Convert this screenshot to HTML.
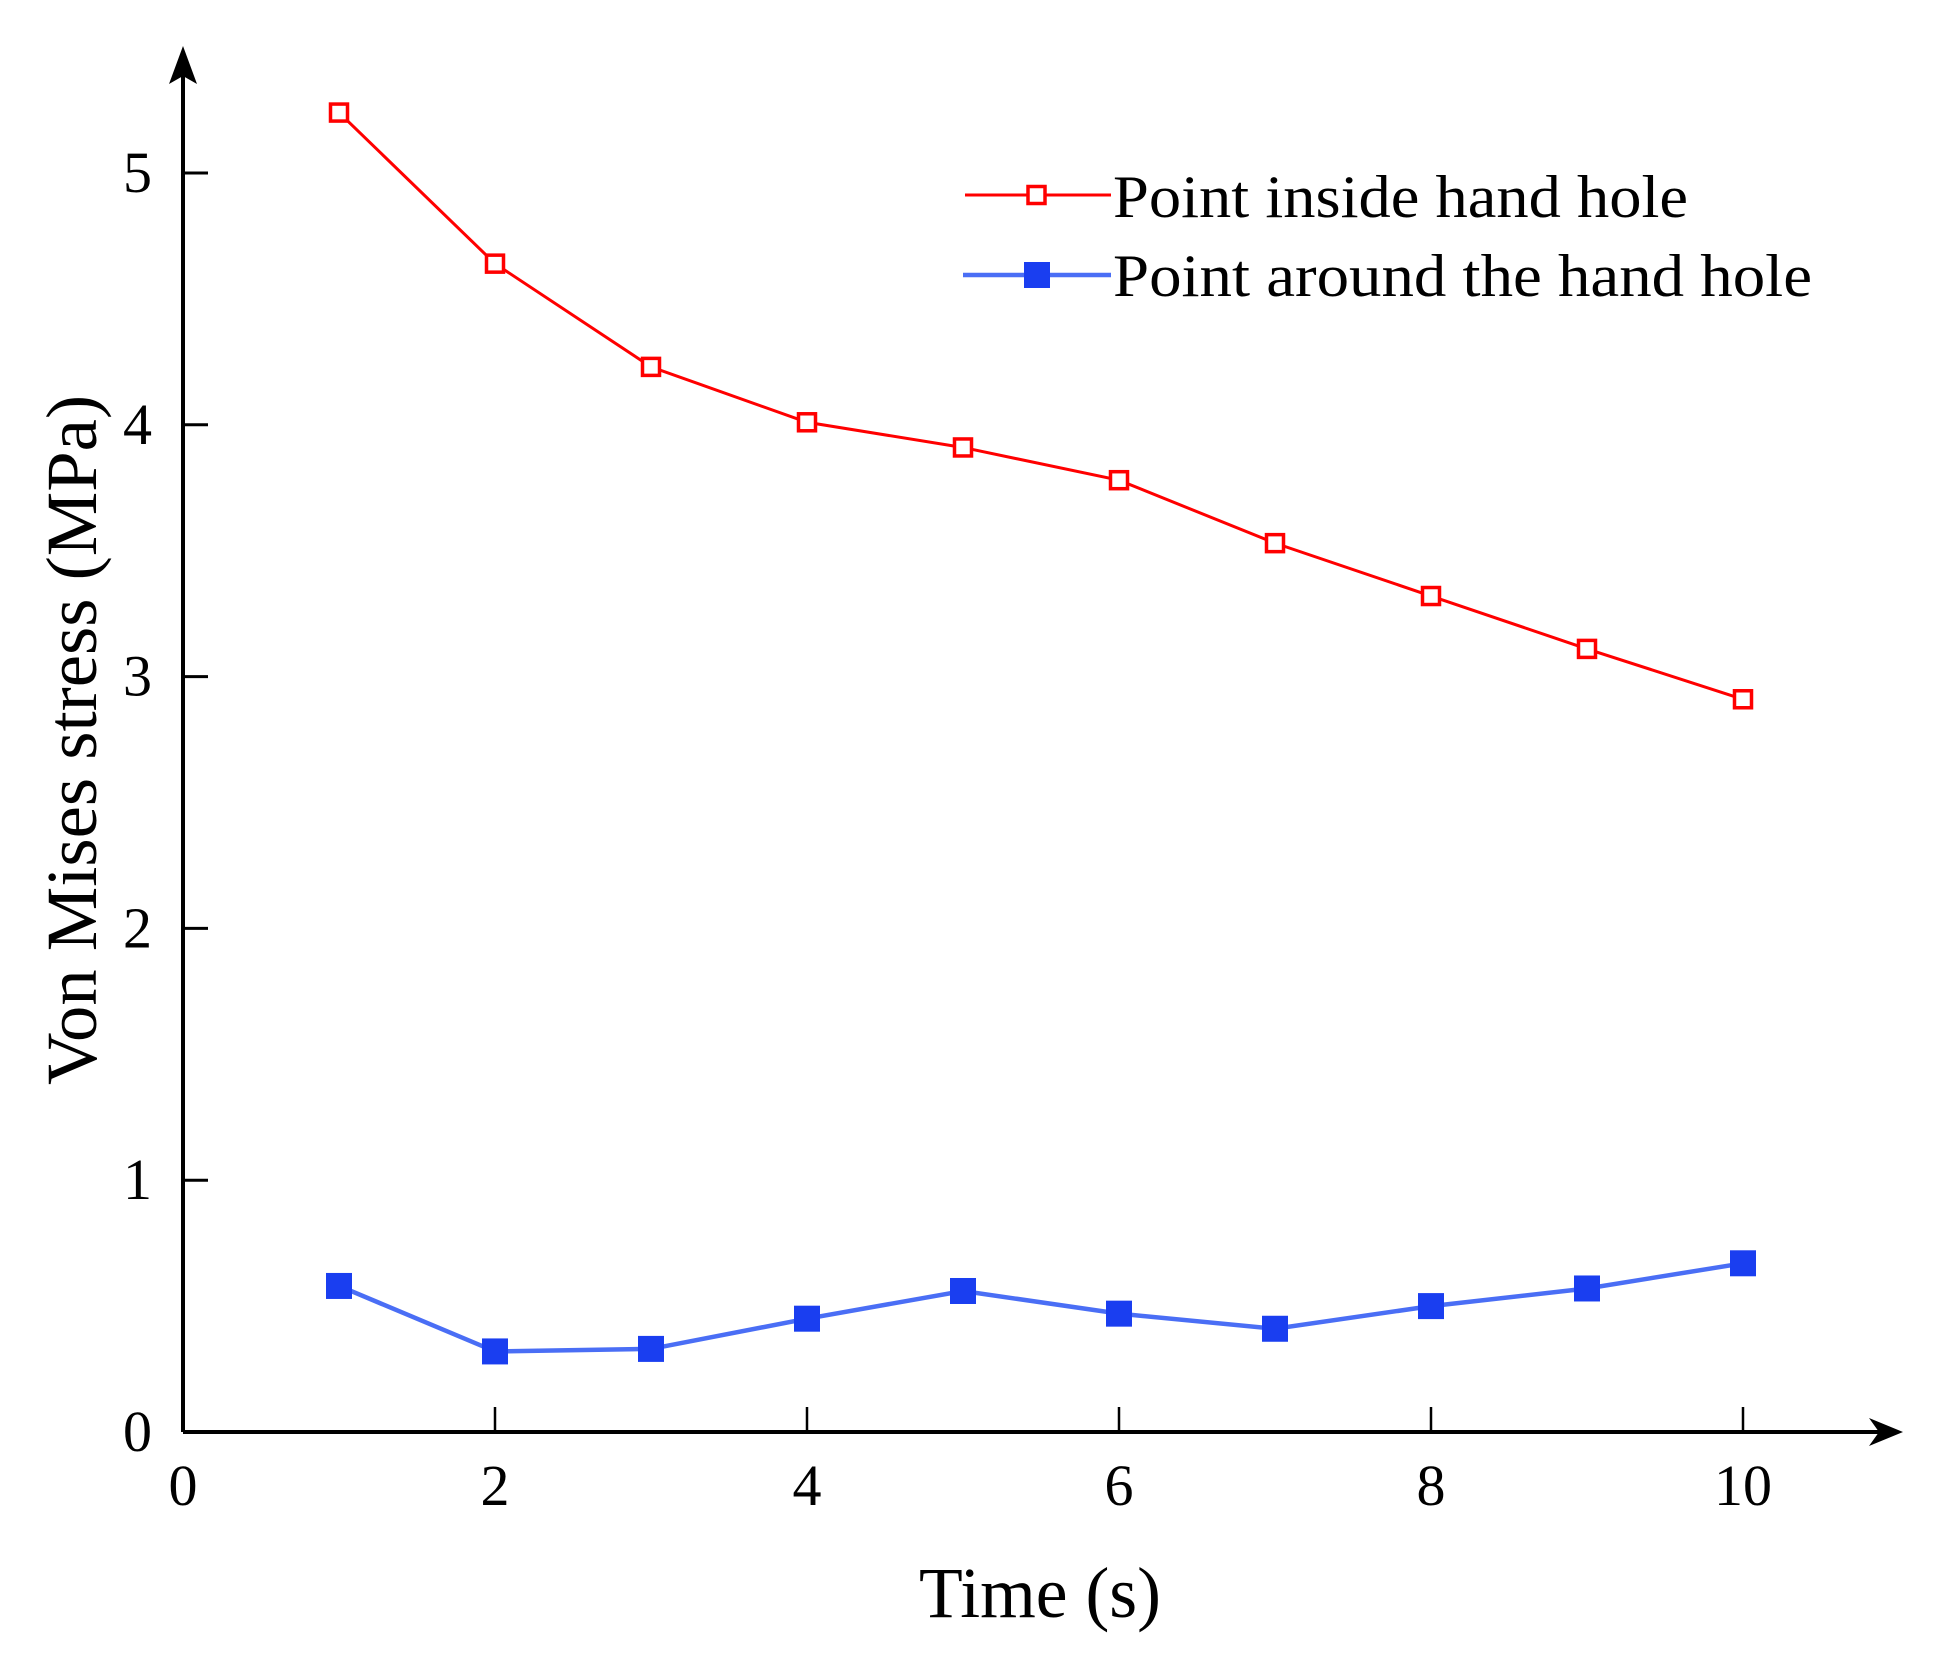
<!DOCTYPE html>
<html><head><meta charset="utf-8"><style>
html,body{margin:0;padding:0;background:#fff;}
svg{display:block;font-family:"Liberation Serif",serif;}
</style></head><body>
<svg id="chart" width="1933" height="1673" viewBox="0 0 1933 1673" xmlns="http://www.w3.org/2000/svg">
<g id="axes"></g>
<g id="series"></g>
<g>
  <line x1="965" y1="195" x2="1111" y2="195" stroke="#f00" stroke-width="3"/>
  <rect x="1028" y="186.5" width="17" height="17" fill="#fff" stroke="#f00" stroke-width="3.5"/>
  <text x="1113" y="217" font-size="60" textLength="575" lengthAdjust="spacingAndGlyphs">Point inside hand hole</text>
  <line x1="963" y1="275" x2="1111" y2="275" stroke="#4a6ef5" stroke-width="4.5"/>
  <rect x="1024" y="262" width="26" height="26" fill="#1a3ef0"/>
  <text x="1113" y="296" font-size="60" textLength="699" lengthAdjust="spacingAndGlyphs">Point around the hand hole</text>
</g>
<text x="1040" y="1617" font-size="72" text-anchor="middle" textLength="242" lengthAdjust="spacingAndGlyphs">Time (s)</text>
<text transform="translate(96,740) rotate(-90)" font-size="72" text-anchor="middle" textLength="690" lengthAdjust="spacingAndGlyphs">Von Mises stress (MPa)</text>
</svg>
<script>
const times = [1,2,3,4,5,6,7,8,9,10];
const insideValues = [5.24,4.64,4.23,4.01,3.91,3.78,3.53,3.32,3.11,2.91];
const aroundValues = [0.58,0.32,0.33,0.45,0.56,0.47,0.41,0.50,0.57,0.67];
const xTicks = [0,2,4,6,8,10];
const yTicks = [0,1,2,3,4,5];

const NS = 'http://www.w3.org/2000/svg';
const x0 = 183, xPer = 156, y0 = 1432, yPer = 251.8;
const xs = v => x0 + v * xPer;
const ys = v => y0 - v * yPer;
function mk(tag, attrs, parent){const e=document.createElementNS(NS,tag);for(const k in attrs)e.setAttribute(k,attrs[k]);parent.appendChild(e);return e;}
const axes = document.getElementById('axes');
const series = document.getElementById('series');

let a = mk('line',{x1:x0,y1:y0,x2:1890,y2:y0,stroke:'#000','stroke-width':4},axes);


a = mk('path',{d:'M1903 1432 L1869 1418 L1879 1432 L1869 1446 Z',fill:'#000'},axes);


a = mk('line',{x1:x0,y1:y0,x2:x0,y2:62,stroke:'#000','stroke-width':4},axes);


a = mk('path',{d:'M183 46 L169 84 L183 76 L197 84 Z',fill:'#000'},axes);



xTicks.forEach(t=>{
  if(t>0){
    const tk = mk('line',{x1:xs(t),y1:y0,x2:xs(t),y2:y0-25,stroke:'#000','stroke-width':2.5},axes);
    
    
  }
  const tl = mk('text',{x:xs(t),y:1505,'font-size':58,'text-anchor':'middle'},axes);
  tl.textContent = t;
  
  
});
yTicks.forEach(t=>{
  if(t>0){
    const tk = mk('line',{x1:x0,y1:ys(t),x2:x0+25,y2:ys(t),stroke:'#000','stroke-width':3},axes);
    
    
  }
  const tl = mk('text',{x:152,y:ys(t)+19,'font-size':58,'text-anchor':'end'},axes);
  tl.textContent = t;
  
  
});

const lr = mk('polyline',{points:times.map((t,i)=>xs(t)+','+ys(insideValues[i])).join(' '),fill:'none',stroke:'#f00','stroke-width':3},series);


const lb = mk('polyline',{points:times.map((t,i)=>xs(t)+','+ys(aroundValues[i])).join(' '),fill:'none',stroke:'#4a6ef5','stroke-width':4.5},series);


times.forEach((t,i)=>{
  const r = mk('rect',{x:xs(t)-8.5,y:ys(insideValues[i])-8.5,width:17,height:17,fill:'#fff',stroke:'#f00','stroke-width':3.5},series);
  
  
  const b = mk('rect',{x:xs(t)-13,y:ys(aroundValues[i])-13,width:26,height:26,fill:'#1a3ef0'},series);
  
  
});
</script>
</body></html>
